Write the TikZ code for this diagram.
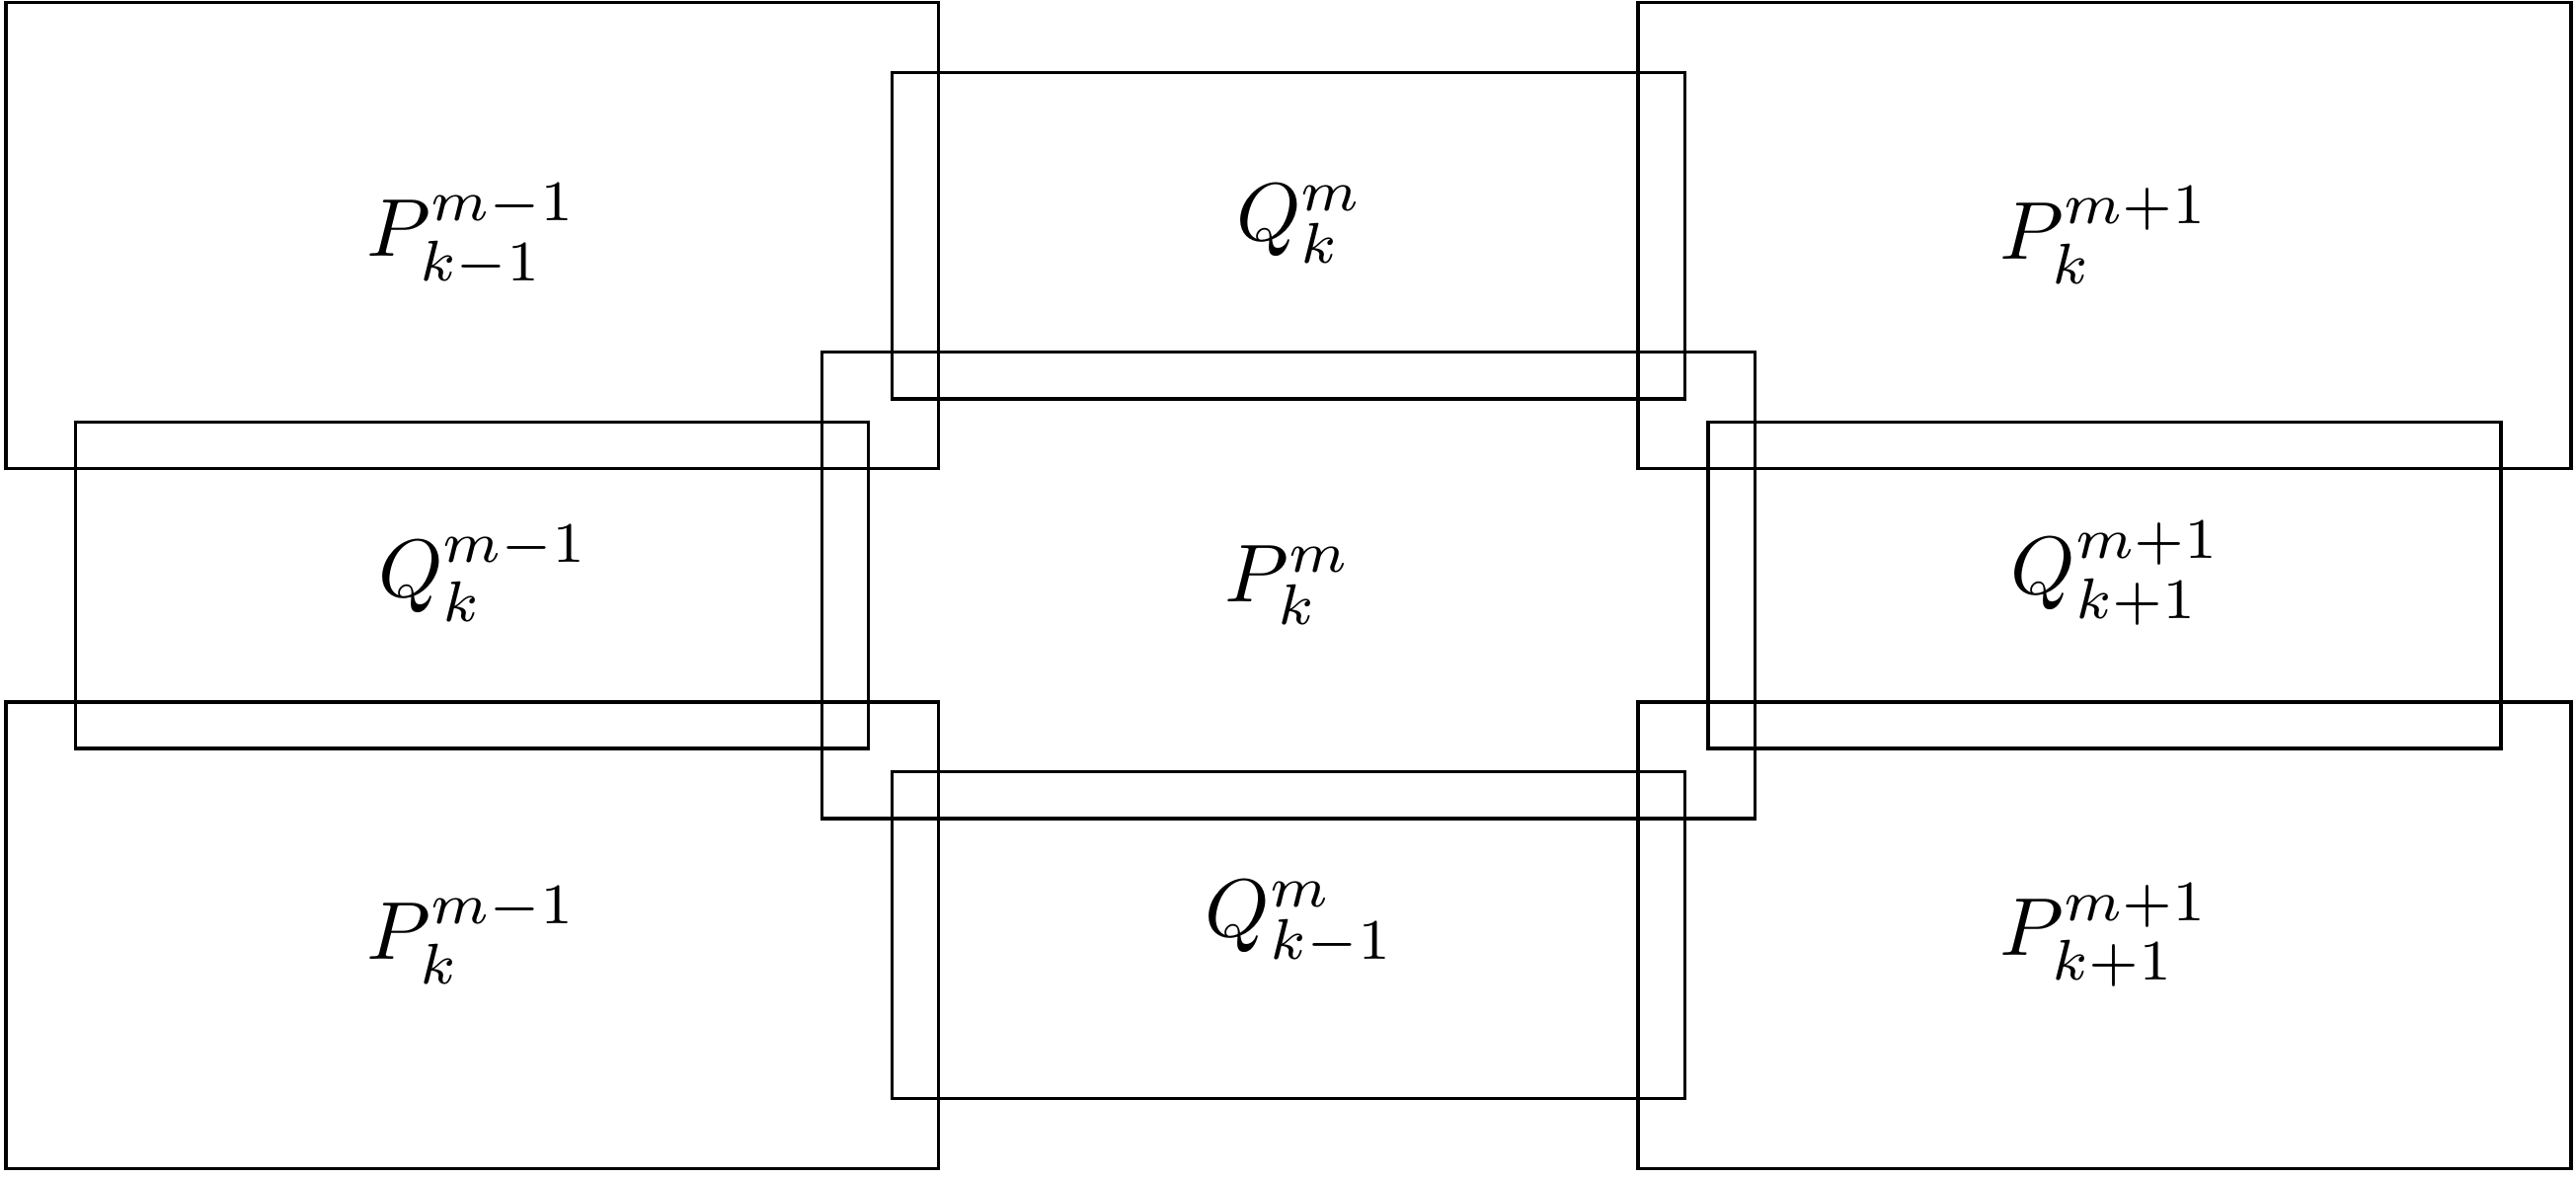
\documentclass[tikz,border=0pt]{standalone}
\usepackage{amsmath,amssymb}
\usepackage{tikz}
\usetikzlibrary{positioning}

\newcommand{\qlab}[1]{\hspace{1mm}\raisebox{0.5mm}[\height][\depth]{$#1$}}

\begin{document}
\begin{tikzpicture}[
    pcell/.style={draw, minimum width=4.0cm, minimum height=2.0cm, inner sep=0pt},
    qcell/.style={draw, minimum width=3.4cm, minimum height=1.4cm, inner sep=0pt},
]
  \useasboundingbox (-0.025,-0.04) rectangle (11.022,5.01);

  % primal cells
  \node[pcell] (p_tl) at (2.0, 4.0) {$P^{m-1}_{k-1}$};
  \node[pcell] (p_tr) at (9.0, 4.0) {$P^{m+1}_{k}$};
  \node[pcell] (p_c)  at (5.5, 2.5) {$P^{m}_{k}$};
  \node[pcell] (p_bl) at (2.0, 1.0) {$P^{m-1}_{k}$};
  \node[pcell] (p_br) at (9.0, 1.0) {$P^{m+1}_{k+1}$};

  % dual cells
  \node[qcell] (q_t) at (5.5, 4.0) {\qlab{Q^{m}_{k}}};
  \node[qcell] (q_l) at (2.0, 2.5) {\qlab{Q^{m-1}_{k}}};
  \node[qcell] (q_r) at (9.0, 2.5) {\qlab{Q^{m+1}_{k+1}}};
  \node[qcell] (q_b) at (5.5, 1.0) {\qlab{Q^{m}_{k-1}}};
\end{tikzpicture}
\end{document}
